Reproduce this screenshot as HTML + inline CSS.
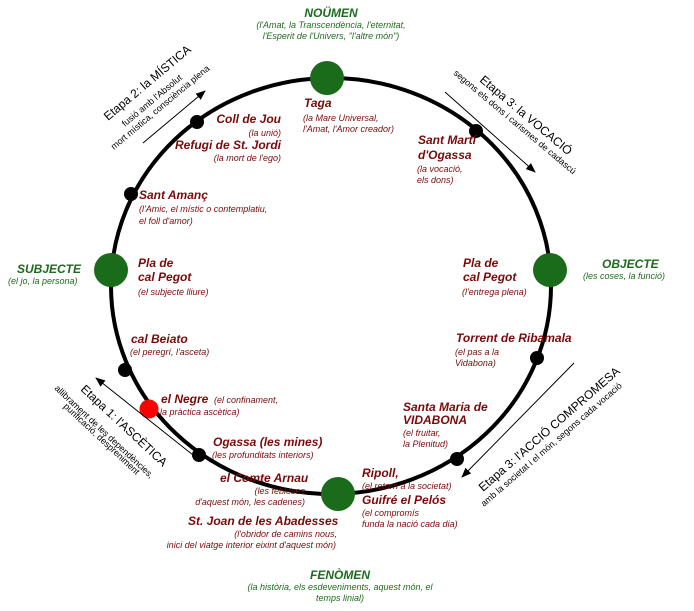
<!DOCTYPE html>
<html><head><meta charset="utf-8"><style>
html,body{margin:0;padding:0;background:#fff;}
svg{display:block;}
.n{font-family:"Liberation Sans",sans-serif;font-weight:bold;font-style:italic;font-size:12px;fill:#7a0a0a;}
.s{font-family:"Liberation Sans",sans-serif;font-weight:normal;font-style:italic;font-size:9px;fill:#7a0a0a;}
.g{font-family:"Liberation Sans",sans-serif;font-weight:bold;font-style:italic;font-size:12px;fill:#1d6b1d;}
.gs{font-family:"Liberation Sans",sans-serif;font-style:italic;font-size:9px;fill:#1d6b1d;}
.e{font-family:"Liberation Sans",sans-serif;font-size:12px;fill:#000;}
.es{font-family:"Liberation Sans",sans-serif;font-size:9px;fill:#000;}
</style></head><body>
<svg width="694" height="611" viewBox="0 0 694 611" xmlns="http://www.w3.org/2000/svg">
<defs><marker id="ah" markerWidth="10" markerHeight="8" refX="9" refY="4" orient="auto" markerUnits="userSpaceOnUse"><path d="M0,0 L10,4 L0,8 z" fill="#000"/></marker></defs>
<ellipse cx="331" cy="286" rx="220" ry="208" fill="none" stroke="#000" stroke-width="4"/>
<g fill="#1a6b1a">
<circle cx="327" cy="78" r="17"/><circle cx="111" cy="270" r="17"/><circle cx="550" cy="270" r="17"/><circle cx="338" cy="494" r="17"/>
</g>
<g fill="#000">
<circle cx="197" cy="122" r="7"/><circle cx="131" cy="194" r="7"/><circle cx="125" cy="370" r="7"/><circle cx="199" cy="455" r="7"/>
<circle cx="476" cy="131" r="7"/><circle cx="537" cy="358" r="7"/><circle cx="457" cy="459" r="7"/>
</g>
<circle cx="149" cy="409" r="9.5" fill="#ff0000"/>

<line x1="143" y1="143" x2="205" y2="91" stroke="#000" stroke-width="1" marker-end="url(#ah)"/>
<line x1="445" y1="92" x2="535" y2="172" stroke="#000" stroke-width="1" marker-end="url(#ah)"/>
<line x1="574" y1="363" x2="462" y2="477" stroke="#000" stroke-width="1" marker-end="url(#ah)"/>
<line x1="193" y1="455" x2="96" y2="378" stroke="#000" stroke-width="1" marker-end="url(#ah)"/>

<g transform="translate(108,121) rotate(-40)"><text class="e" x="0" y="0">Etapa 2: la MÍSTICA</text></g>
<g transform="translate(125,127) rotate(-40)"><text class="es" x="0" y="0">fusió amb l'Absolut</text></g>
<g transform="translate(114,150) rotate(-40)"><text class="es" x="0" y="0">mort mística, consciència plena</text></g>

<g transform="translate(479,81) rotate(40)"><text class="e" x="0" y="0">Etapa 3: la VOCACIÓ</text></g>
<g transform="translate(453,74) rotate(40)"><text class="es" x="0" y="0">segons els dons i carismes de cadascú</text></g>

<g transform="translate(483,492) rotate(-41)"><text class="e" x="0" y="0">Etapa 3: l'ACCIÓ COMPROMESA</text></g>
<g transform="translate(484,507) rotate(-41)"><text class="es" x="0" y="0">amb la societat i el món, segons cada vocació</text></g>

<g transform="translate(80,390) rotate(43)"><text class="e" x="0" y="0">Etapa 1: l'ASCÈTICA</text></g>
<g transform="translate(54,389) rotate(43)"><text class="es" x="0" y="0">allibrament de les dependències,</text></g>
<g transform="translate(63,407) rotate(43)"><text class="es" x="0" y="0">purificació, despreniment</text></g>

<text class="g" x="331" y="17" text-anchor="middle">NOÜMEN</text>
<text class="gs" x="331" y="28" text-anchor="middle">(l'Amat, la Transcendència, l'eternitat,</text>
<text class="gs" x="331" y="39" text-anchor="middle">l'Esperit de l'Univers, "l'altre món")</text>
<text class="g" x="17" y="273">SUBJECTE</text>
<text class="gs" x="8" y="284">(el jo, la persona)</text>
<text class="g" x="602" y="268">OBJECTE</text>
<text class="gs" x="583" y="279">(les coses, la funció)</text>
<text class="g" x="340" y="579" text-anchor="middle">FENÒMEN</text>
<text class="gs" x="340" y="590" text-anchor="middle">(la història, els esdeveniments, aquest món, el</text>
<text class="gs" x="340" y="601" text-anchor="middle">temps linial)</text>

<text class="n" x="304" y="107">Taga</text>
<text class="s" x="303" y="121">(la Mare Universal,</text>
<text class="s" x="303" y="132">l'Amat, l'Amor creador)</text>

<text class="n" x="281" y="123" text-anchor="end">Coll de Jou</text>
<text class="s" x="281" y="136" text-anchor="end">(la unió)</text>
<text class="n" x="281" y="149" text-anchor="end">Refugi de St. Jordi</text>
<text class="s" x="281" y="161" text-anchor="end">(la mort de l'ego)</text>

<text class="n" x="139" y="199">Sant Amanç</text>
<text class="s" x="139" y="212">(l'Amic, el místic o contemplatiu,</text>
<text class="s" x="139" y="224">el foll d'amor)</text>

<text class="n" x="138" y="267">Pla de</text>
<text class="n" x="138" y="281">cal Pegot</text>
<text class="s" x="138" y="295">(el subjecte lliure)</text>

<text class="n" x="131" y="343">cal Beiato</text>
<text class="s" x="130" y="355">(el peregrí, l'asceta)</text>

<text class="n" x="161" y="403">el Negre</text>
<text class="s" x="214" y="403">(el confinament,</text>
<text class="s" x="160" y="415">la pràctica ascètica)</text>

<text class="n" x="213" y="446">Ogassa (les mines)</text>
<text class="s" x="212" y="458">(les profunditats interiors)</text>

<text class="n" x="220" y="482">el Comte Arnau</text>
<text class="s" x="305" y="494" text-anchor="end">(les febleses</text>
<text class="s" x="305" y="505" text-anchor="end">d'aquest món, les cadenes)</text>

<text class="n" x="188" y="525">St. Joan de les Abadesses</text>
<text class="s" x="337" y="537" text-anchor="end">(l'obridor de camins nous,</text>
<text class="s" x="336" y="548" text-anchor="end">inici del viatge interior eixint d'aquest món)</text>

<text class="n" x="362" y="477">Ripoll,</text>
<text class="s" x="362" y="489">(el retorn a la societat)</text>
<text class="n" x="362" y="504">Guifré el Pelós</text>
<text class="s" x="362" y="516">(el compromís</text>
<text class="s" x="362" y="527">funda la nació cada dia)</text>

<text class="n" x="403" y="411">Santa Maria de</text>
<text class="n" x="403" y="424">VIDABONA</text>
<text class="s" x="403" y="436">(el fruitar,</text>
<text class="s" x="403" y="447">la Plenitud)</text>

<text class="n" x="456" y="342">Torrent de Ribamala</text>
<text class="s" x="455" y="355">(el pas a la</text>
<text class="s" x="455" y="366">Vidabona)</text>

<text class="n" x="463" y="267">Pla de</text>
<text class="n" x="463" y="281">cal Pegot</text>
<text class="s" x="462" y="295">(l'entrega plena)</text>

<text class="n" x="418" y="144">Sant Martí</text>
<text class="n" x="418" y="159">d'Ogassa</text>
<text class="s" x="417" y="172">(la vocació,</text>
<text class="s" x="417" y="183">els dons)</text>
</svg>
</body></html>
